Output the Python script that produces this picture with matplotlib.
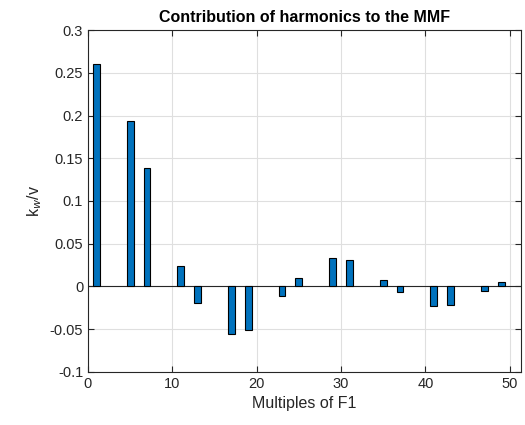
import matplotlib
matplotlib.use("Agg")
import matplotlib.pyplot as plt
import numpy as np

plt.rcParams['font.family'] = ['Liberation Sans', 'DejaVu Sans']

# harmonic orders and their winding factor / order
harmonics = [1, 5, 7, 11, 13, 17, 19, 23, 25, 29, 31, 35, 37, 41, 43, 47, 49]
kw_over_v = [0.260, 0.194, 0.1385, 0.0234, -0.0199, -0.0562, -0.0507, -0.0109, 0.0101,
             0.0331, 0.0312, 0.0074, -0.0066, -0.0230, -0.0214, -0.0051, 0.0051]

fig = plt.figure(figsize=(5.25, 4.25), dpi=100)
ax = fig.add_axes([0.1676, 0.1254, 0.8242, 0.8036])

ax.bar(harmonics, kw_over_v, width=0.8, color="#0072BD", edgecolor="black", linewidth=0.8, zorder=3)
ax.axhline(0, color="#262626", linewidth=0.8, zorder=2)

ax.set_xlim(0, 51.3)
ax.set_ylim(-0.1, 0.3)
ax.set_xticks([0, 10, 20, 30, 40, 50])
ax.set_yticks(np.arange(-0.1, 0.31, 0.05))
ax.set_yticklabels(["-0.1", "-0.05", "0", "0.05", "0.1", "0.15", "0.2", "0.25", "0.3"])
ax.grid(True, color="#dfdfdf", linewidth=0.8, zorder=0)
ax.set_axisbelow(True)
ax.tick_params(direction="in", top=True, right=True, colors="#262626", labelsize=10.5, length=4)
for s in ax.spines.values():
    s.set_color("#262626")
    s.set_linewidth(0.8)

ax.set_xlabel("Multiples of F1", fontsize=11.5, color="#262626")
ax.set_ylabel("k$_w$/v", fontsize=11.5, color="#262626")
ax.set_title("Contribution of harmonics to the MMF", fontsize=11.5, fontweight="bold")

fig.savefig("out.png", dpi=100)
